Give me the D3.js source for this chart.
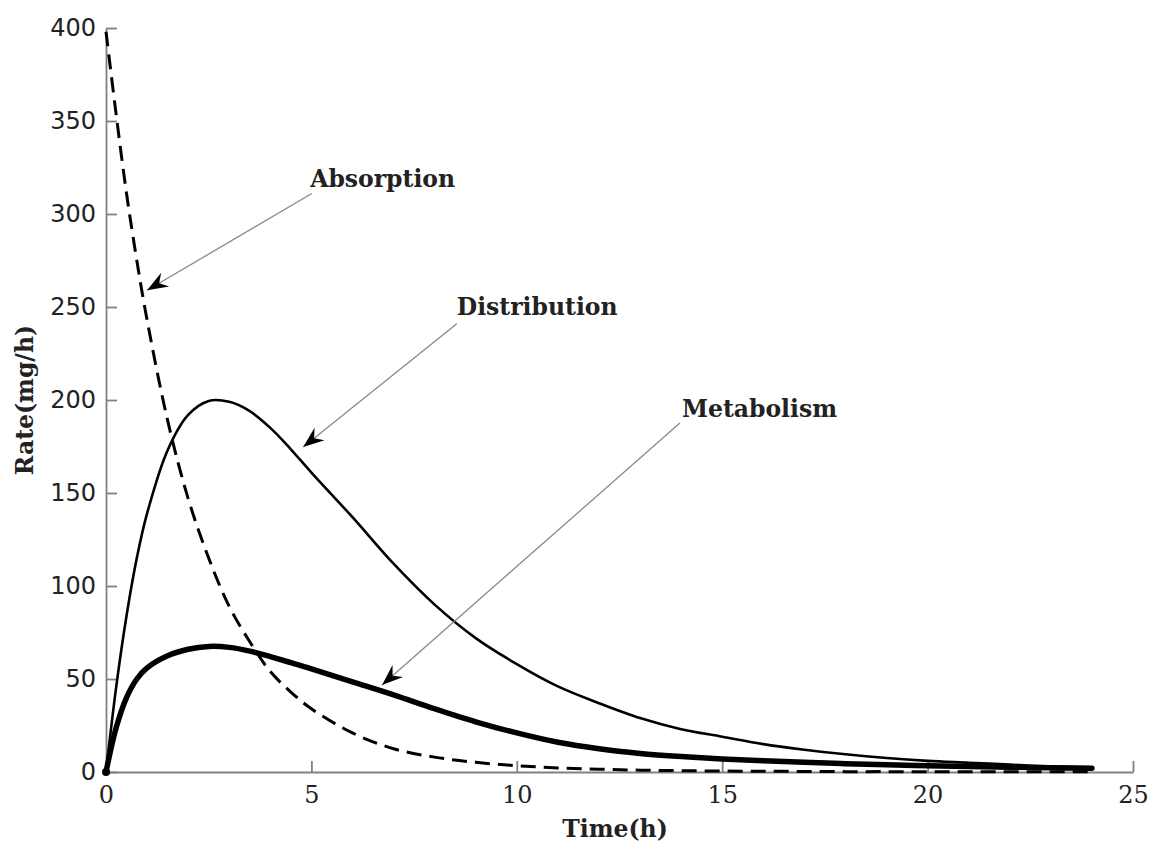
<!DOCTYPE html>
<html>
<head>
<meta charset="utf-8">
<script src="https://cdnjs.cloudflare.com/ajax/libs/d3/7.8.5/d3.min.js"></script>
<style>
  body { margin: 0; background: #fff; }
  svg { display: block; }
  .tick text { fill: #222; }
</style>
</head>
<body>
<div id="chart"></div>
<script>
// time points (h)
const times = [0, 0.25, 0.5, 0.75, 1, 1.5, 2, 2.5, 3, 3.5, 4, 4.5, 5, 6, 7, 8, 9, 10, 11, 12,
  13, 14, 15, 16, 17, 18, 19, 20, 21, 22, 23, 24];

// rates (mg/h)
const absorption = [398, 353, 311, 275, 243, 189, 147, 115, 89, 70, 54, 43, 34, 21, 12.5, 8, 5.2,
  3.4, 2.2, 1.5, 1, 0.7, 0.5, 0.4, 0.3, 0.2, 0.2, 0.1, 0.1, 0.1, 0.1, 0.1];
const distribution = [0, 46, 84, 115, 139, 173, 192, 199.5, 199, 194, 185, 173.5, 161, 137, 112, 90, 72,
  58, 46, 37, 29, 23, 19, 15, 12, 9.5, 7.5, 6, 5, 4, 3, 2.5];
const metabolism = [0, 24, 40, 50, 56, 62.5, 66, 67.5, 67, 65, 62, 58.8, 55.5, 48.5, 41.5, 34, 27,
  21, 16, 12.5, 10, 8.3, 7, 6, 5.2, 4.5, 3.9, 3.4, 3, 2.6, 2.3, 2];

const xTicks = [0, 5, 10, 15, 20, 25];
const yTicks = [0, 50, 100, 150, 200, 250, 300, 350, 400];

// annotations: label anchor, arrow tail and arrow tip in data units
const notes = [
  { text: "Absorption", label: [4.97, 314.5], from: [5.01, 311], to: [1.0, 259] },
  { text: "Distribution", label: [8.54, 245.7], from: [8.54, 241], to: [4.8, 174.7] },
  { text: "Metabolism", label: [14.02, 190.9], from: [13.97, 187.6], to: [6.72, 46.8] }
];

const width = 1149, height = 844;
const svg = d3.select("#chart").append("svg")
  .attr("width", width)
  .attr("height", height);

const x = d3.scaleLinear().domain([0, 25]).range([106, 1133]);
const y = d3.scaleLinear().domain([0, 400]).range([772, 28]);

// axes
const xAxis = svg.append("g")
  .attr("transform", `translate(0,${y(0)})`)
  .call(d3.axisBottom(x).tickValues(xTicks).tickSizeInner(-11).tickSizeOuter(0).tickPadding(14));
xAxis.selectAll("text")
  .attr("font-family", "DejaVu Serif")
  .attr("font-size", 24);

const yAxis = svg.append("g")
  .attr("transform", `translate(${x(0)},0)`)
  .call(d3.axisLeft(y).tickValues(yTicks).tickSizeInner(-11).tickSizeOuter(0).tickPadding(10));
yAxis.selectAll("text")
  .attr("font-family", "DejaVu Sans")
  .attr("font-size", 24);

svg.selectAll(".domain, .tick line")
  .attr("stroke", "#808080")
  .attr("stroke-width", 1.8);

// axis titles
svg.append("text")
  .attr("x", 615)
  .attr("y", 837)
  .attr("text-anchor", "middle")
  .attr("font-family", "DejaVu Serif")
  .attr("font-weight", "bold")
  .attr("font-size", 23.5)
  .attr("fill", "#222")
  .text("Time(h)");

svg.append("text")
  .attr("transform", "translate(33,400) rotate(-90)")
  .attr("text-anchor", "middle")
  .attr("font-family", "DejaVu Serif")
  .attr("font-weight", "bold")
  .attr("font-size", 23.5)
  .attr("fill", "#222")
  .text("Rate(mg/h)");

// curves
const line = d3.line()
  .x((d) => x(d[0]))
  .y((d) => y(d[1]))
  .curve(d3.curveCatmullRom.alpha(0.5));

const series = [
  { values: absorption, width: 3, dash: "15,8" },
  { values: distribution, width: 2.6, dash: null },
  { values: metabolism, width: 5.5, dash: null }
];

series.forEach((s) => {
  svg.append("path")
    .datum(times.map((t, i) => [t, s.values[i]]))
    .attr("fill", "none")
    .attr("stroke", "#000")
    .attr("stroke-width", s.width)
    .attr("stroke-dasharray", s.dash)
    .attr("stroke-linejoin", "round")
    .attr("stroke-linecap", s.dash ? "butt" : "round")
    .attr("d", line);
});

// origin dot on the metabolism curve
svg.append("circle")
  .attr("cx", x(0))
  .attr("cy", y(0))
  .attr("r", 4)
  .attr("fill", "#000");

// arrow heads
svg.append("defs").append("marker")
  .attr("id", "head")
  .attr("markerUnits", "userSpaceOnUse")
  .attr("viewBox", "-22 -10 24 20")
  .attr("refX", 0)
  .attr("refY", 0)
  .attr("markerWidth", 24)
  .attr("markerHeight", 20)
  .attr("orient", "auto")
  .append("path")
  .attr("d", "M0,0 L-21,-8 L-14,0 L-21,8 Z")
  .attr("fill", "#000");

notes.forEach((n) => {
  svg.append("line")
    .attr("x1", x(n.from[0]))
    .attr("y1", y(n.from[1]))
    .attr("x2", x(n.to[0]))
    .attr("y2", y(n.to[1]))
    .attr("stroke", "#888")
    .attr("stroke-width", 1.3)
    .attr("marker-end", "url(#head)");

  svg.append("text")
    .attr("x", x(n.label[0]))
    .attr("y", y(n.label[1]))
    .attr("font-family", "DejaVu Serif")
    .attr("font-weight", "bold")
    .attr("font-size", 23.5)
    .attr("fill", "#222")
    .text(n.text);
});
</script>
</body>
</html>
